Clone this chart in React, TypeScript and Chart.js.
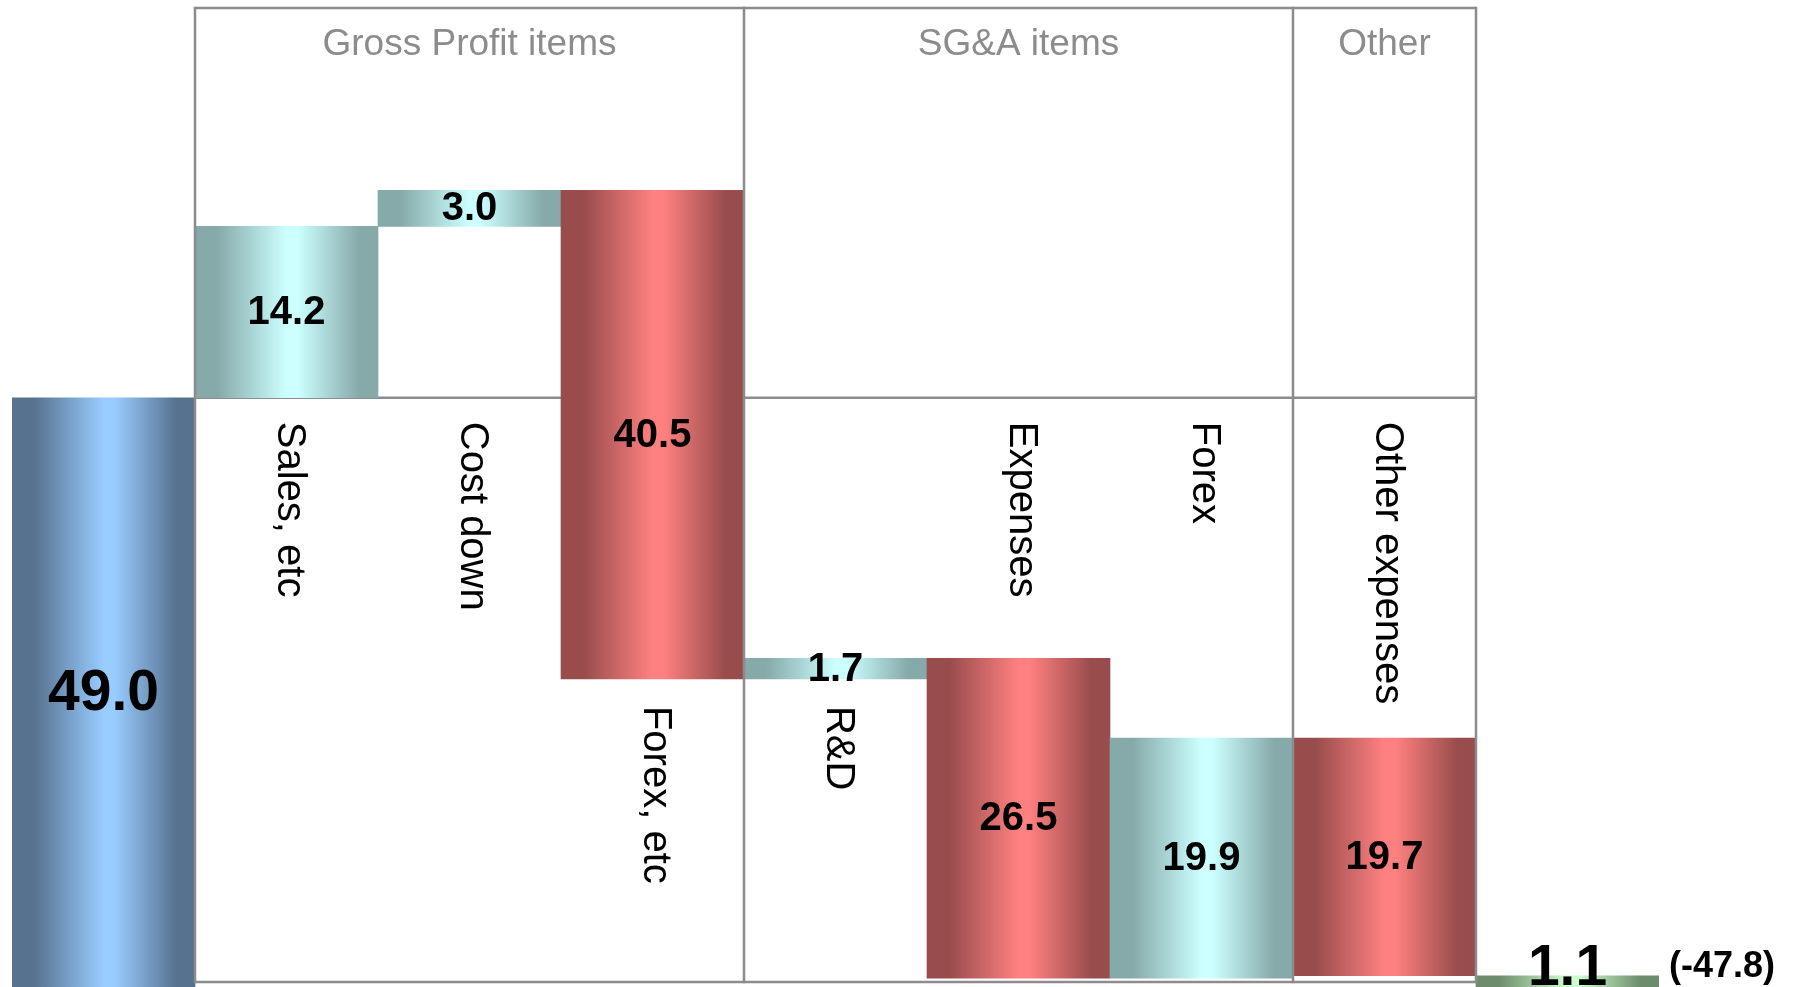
import React, { useEffect, useRef } from "react";
import { Chart, registerables } from "chart.js";

Chart.register(...registerables);

// ---- data ----
const categories = ["Start", "Sales, etc", "Cost down", "Forex, etc", "R&D", "Expenses", "Forex", "Other expenses", "Result"];
const axisLabels = ["", "Sales, etc", "Cost down", "Forex, etc", "R&D", "Expenses", "Forex", "Other expenses", ""];
const changes = [49.0, 14.2, 3.0, -40.5, 1.7, -26.5, 19.9, -19.7, 1.1];
const barKinds = ["total", "inc", "inc", "dec", "inc", "dec", "inc", "dec", "result"];
const labelPlacement = ["none", "level", "level", "belowBar", "belowBar", "level", "level", "level", "none"];
const groupNames = ["Gross Profit items", "SG&A items", "Other"];
const groupFirst = [1, 4, 7];
const groupLast = [3, 6, 7];
const resultNote = "(-47.8)";

// ---- styles ----
const palette: Record<string, [string, string]> = {
  total: ["#56728f", "#99ccff"],
  inc: ["#86a9a9", "#ccffff"],
  dec: ["#984c4c", "#ff8080"],
  result: ["#6c8c6c", "#ccffcc"],
};
const FONT = "'Liberation Sans', Arial, sans-serif";
const LINE = "#8c8c8c";

// floating bar ranges built from the changes
const ranges: [number, number][] = [];
{
  let level = 0;
  changes.forEach((c, i) => {
    if (barKinds[i] === "total" || barKinds[i] === "result") {
      ranges.push([0, c]);
      level = c;
    } else {
      ranges.push([level, level + c]);
      level += c;
    }
  });
}

const catWidth = (chart: any) => (chart.chartArea.right - chart.chartArea.left) / categories.length;
const catCenter = (chart: any, i: number) => chart.scales.x.getPixelForValue(i);

const gradientFill = (ctx: any) => {
  const chart = ctx.chart;
  const i = ctx.dataIndex;
  if (!chart.chartArea || i === undefined) return "#cccccc";
  const w = catWidth(chart);
  const cx = catCenter(chart, i);
  const [dark, light] = palette[barKinds[i]];
  const g = chart.ctx.createLinearGradient(cx - w / 2, 0, cx + w / 2, 0);
  g.addColorStop(0, dark);
  g.addColorStop(0.12, dark);
  g.addColorStop(0.5, light);
  g.addColorStop(0.56, light);
  g.addColorStop(0.9, dark);
  g.addColorStop(1, dark);
  return g;
};

const decorPlugin = {
  id: "decor",
  beforeDatasetsDraw(chart: any) {
    const { ctx, chartArea } = chart;
    const w = catWidth(chart);
    const left = catCenter(chart, groupFirst[0]) - w / 2;
    const right = catCenter(chart, groupLast[groupLast.length - 1]) + w / 2;
    const top = chartArea.top;
    const bottom = chartArea.bottom - 5;
    const mid = chart.scales.y.getPixelForValue(changes[0]);
    ctx.save();
    ctx.strokeStyle = LINE;
    ctx.lineWidth = 2.5;
    ctx.beginPath();
    [top, mid, bottom].forEach((y) => {
      ctx.moveTo(left, y);
      ctx.lineTo(right, y);
    });
    ctx.stroke();
    // group headers
    ctx.fillStyle = "#8c8c8c";
    ctx.font = `37px ${FONT}`;
    ctx.textAlign = "center";
    ctx.textBaseline = "alphabetic";
    groupNames.forEach((name, g) => {
      const gl = catCenter(chart, groupFirst[g]) - w / 2;
      const gr = catCenter(chart, groupLast[g]) + w / 2;
      ctx.fillText(name, (gl + gr) / 2, top + 47);
    });
    ctx.restore();
  },
  afterDatasetsDraw(chart: any) {
    const { ctx, chartArea } = chart;
    const w = catWidth(chart);
    const top = chartArea.top;
    const bottom = chartArea.bottom - 5;
    const ys = chart.scales.y;
    ctx.save();
    // vertical box lines on top of bars
    const xs: number[] = [catCenter(chart, groupFirst[0]) - w / 2];
    groupLast.forEach((l) => xs.push(catCenter(chart, l) + w / 2));
    ctx.strokeStyle = LINE;
    ctx.lineWidth = 2.5;
    ctx.beginPath();
    xs.forEach((x) => {
      ctx.moveTo(x, top - 1.25);
      ctx.lineTo(x, bottom + 1.25);
    });
    ctx.stroke();

    const meta = chart.getDatasetMeta(0);
    // value labels
    ctx.fillStyle = "#000";
    ctx.textAlign = "center";
    ctx.textBaseline = "middle";
    meta.data.forEach((bar: any, i: number) => {
      const big = barKinds[i] === "total" || barKinds[i] === "result";
      const size = big ? 57 : 40;
      ctx.font = `bold ${size}px ${FONT}`;
      let cy = (bar.y + bar.base) / 2;
      cy = Math.min(cy, chartArea.bottom - size / 3);
      ctx.fillText(Math.abs(changes[i]).toFixed(1), bar.x, cy + 1);
    });

    // category labels (rotated)
    ctx.font = `40px ${FONT}`;
    ctx.textAlign = "left";
    ctx.textBaseline = "middle";
    meta.data.forEach((bar: any, i: number) => {
      const p = labelPlacement[i];
      if (p === "none" || !axisLabels[i]) return;
      let y0: number;
      if (p === "level") y0 = ys.getPixelForValue(changes[0]) + 24;
      else y0 = Math.max(bar.y, bar.base) + 27;
      ctx.save();
      ctx.translate(bar.x + 3, y0);
      ctx.rotate(Math.PI / 2);
      ctx.fillText(axisLabels[i], 0, 0);
      ctx.restore();
    });

    // result note
    const last = meta.data[meta.data.length - 1];
    ctx.font = `bold 36px ${FONT}`;
    ctx.textAlign = "left";
    ctx.textBaseline = "alphabetic";
    ctx.fillText(resultNote, last.x + w / 2 + 10, Math.min(last.y, last.base) + 1);
    ctx.restore();
  },
};

export default function App() {
  const ref = useRef<HTMLCanvasElement | null>(null);
  useEffect(() => {
    if (!ref.current) return;
    const chart = new Chart(ref.current, {
      type: "bar",
      data: {
        labels: categories,
        datasets: [
          {
            data: ranges as any,
            backgroundColor: gradientFill as any,
            borderWidth: 0,
            barPercentage: 1,
            categoryPercentage: 1,
          },
        ],
      },
      options: {
        animation: false,
        responsive: false,
        devicePixelRatio: 1,
        layout: { padding: { left: 12, right: 136, top: 8, bottom: 0 } },
        plugins: { legend: { display: false }, tooltip: { enabled: false } },
        scales: {
          x: { type: "category", offset: true, display: false, grid: { display: false } },
          y: { min: 0.17, max: 81.3, display: false, grid: { display: false } },
        },
      },
      plugins: [decorPlugin],
    });
    return () => chart.destroy();
  }, []);
  return (
    <div style={{ position: "fixed", left: 0, top: 0, width: 1795, height: 987, background: "#fff", overflow: "hidden" }}>
      <canvas ref={ref} width={1795} height={987} style={{ display: "block", width: 1795, height: 987 }} />
    </div>
  );
}
